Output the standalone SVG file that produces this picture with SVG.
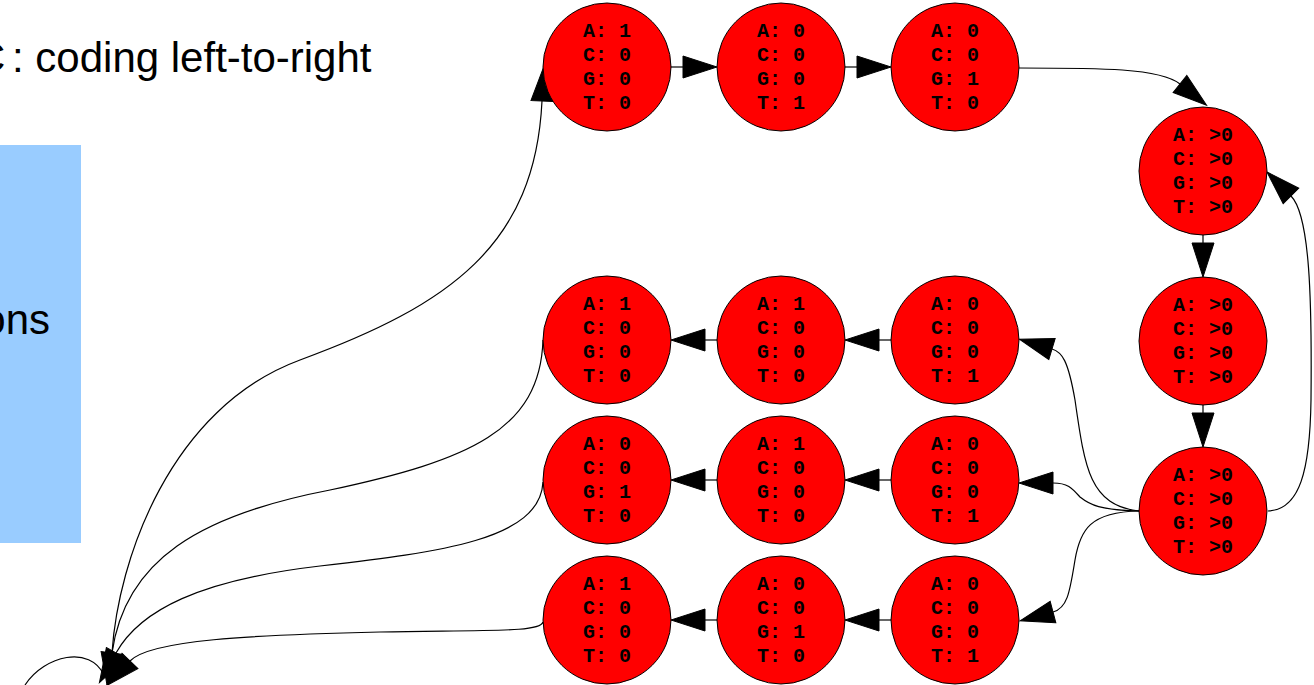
<svg xmlns="http://www.w3.org/2000/svg" width="1314" height="685" viewBox="0 0 1314 685">
<style>
.bg{fill:#ffffff}
.title{font-family:"Liberation Sans",Arial,sans-serif;font-size:42px;fill:#000}
.box{fill:#99ccff}
.node circle{fill:#ff0000;stroke:#000;stroke-width:1}
.node text{font-family:"Liberation Mono","Courier New",monospace;font-weight:bold;font-size:20px;fill:#000;text-anchor:middle}
.edge{fill:none;stroke:#000;stroke-width:1.2;marker-end:url(#arr)}
.plain{fill:none;stroke:#000;stroke-width:1.2}
</style>
<defs>
<marker id="arr" markerUnits="userSpaceOnUse" markerWidth="40" markerHeight="26" refX="1" refY="12" orient="auto" viewBox="0 0 40 24">
<path d="M1,1 L35,12 L1,23 z" fill="#000" stroke="#000" stroke-width="1"/>
</marker>
</defs>
<rect class="bg" x="0" y="0" width="1314" height="685"/>
<rect class="box" x="-10" y="145" width="91" height="398"/>
<text class="title" y="72"><tspan x="-25">C</tspan><tspan x="12">: coding left-to-right</tspan></text>
<text class="title" x="50" y="334" text-anchor="end">ons</text>

<g id="connectors">
<path class="edge" d="M112,653 C118,560 170,408 300,360 C450,305 535,245 542,101"/>
<path class="edge" d="M543,340 C540,430 470,460 330,490 C200,515 125,560 112,653"/>
<path class="edge" d="M543,482 C540,540 440,552 320,566 C200,580 140,610 116,653"/>
<path class="edge" d="M543,622 C540,632 500,630 380,632 C250,635 150,640 130,661"/>
<path class="plain" d="M25,685 C45,655 90,645 104,675"/>
<path class="edge" d="M671,67 L683,67"/>
<path class="edge" d="M845,67 L857,67"/>
<path class="edge" d="M1019,68 C1100,68 1160,68 1180,84"/>
<path class="edge" d="M1203,235 L1203,243"/>
<path class="edge" d="M1203,405 L1203,413"/>
<path class="edge" d="M1268,511 C1300,510 1310,470 1311,400 C1312,300 1310,215 1291,196"/>
<path class="edge" d="M1139,511 C1090,505 1085,470 1075,400 C1068,360 1062,352 1052,349"/>
<path class="edge" d="M1139,511 C1100,510 1090,505 1080,497 C1072,488 1068,483 1053,483"/>
<path class="edge" d="M1139,511 C1090,512 1080,530 1075,560 C1070,590 1068,608 1053,612"/>
<path class="edge" d="M891,340 L879,340"/>
<path class="edge" d="M717,340 L705,340"/>
<path class="edge" d="M891,480 L879,480"/>
<path class="edge" d="M717,480 L705,480"/>
<path class="edge" d="M891,620 L879,620"/>
<path class="edge" d="M717,620 L705,620"/>
</g>

<g id="n_t1" class="node"><circle cx="607" cy="67" r="64"/><text x="607" y="37">A: 1</text><text x="607" y="61">C: 0</text><text x="607" y="85">G: 0</text><text x="607" y="109">T: 0</text></g>
<g id="n_t2" class="node"><circle cx="781" cy="67" r="64"/><text x="781" y="37">A: 0</text><text x="781" y="61">C: 0</text><text x="781" y="85">G: 0</text><text x="781" y="109">T: 1</text></g>
<g id="n_t3" class="node"><circle cx="955" cy="67" r="64"/><text x="955" y="37">A: 0</text><text x="955" y="61">C: 0</text><text x="955" y="85">G: 1</text><text x="955" y="109">T: 0</text></g>

<g id="n_r1" class="node"><circle cx="1203" cy="171" r="64"/><text x="1203" y="141">A: &gt;0</text><text x="1203" y="165">C: &gt;0</text><text x="1203" y="189">G: &gt;0</text><text x="1203" y="213">T: &gt;0</text></g>
<g id="n_r2" class="node"><circle cx="1203" cy="341" r="64"/><text x="1203" y="311">A: &gt;0</text><text x="1203" y="335">C: &gt;0</text><text x="1203" y="359">G: &gt;0</text><text x="1203" y="383">T: &gt;0</text></g>
<g id="n_r3" class="node"><circle cx="1203" cy="511" r="64"/><text x="1203" y="481">A: &gt;0</text><text x="1203" y="505">C: &gt;0</text><text x="1203" y="529">G: &gt;0</text><text x="1203" y="553">T: &gt;0</text></g>

<g id="n_a1" class="node"><circle cx="607" cy="340" r="64"/><text x="607" y="310">A: 1</text><text x="607" y="334">C: 0</text><text x="607" y="358">G: 0</text><text x="607" y="382">T: 0</text></g>
<g id="n_a2" class="node"><circle cx="781" cy="340" r="64"/><text x="781" y="310">A: 1</text><text x="781" y="334">C: 0</text><text x="781" y="358">G: 0</text><text x="781" y="382">T: 0</text></g>
<g id="n_a3" class="node"><circle cx="955" cy="340" r="64"/><text x="955" y="310">A: 0</text><text x="955" y="334">C: 0</text><text x="955" y="358">G: 0</text><text x="955" y="382">T: 1</text></g>

<g id="n_b1" class="node"><circle cx="607" cy="480" r="64"/><text x="607" y="450">A: 0</text><text x="607" y="474">C: 0</text><text x="607" y="498">G: 1</text><text x="607" y="522">T: 0</text></g>
<g id="n_b2" class="node"><circle cx="781" cy="480" r="64"/><text x="781" y="450">A: 1</text><text x="781" y="474">C: 0</text><text x="781" y="498">G: 0</text><text x="781" y="522">T: 0</text></g>
<g id="n_b3" class="node"><circle cx="955" cy="480" r="64"/><text x="955" y="450">A: 0</text><text x="955" y="474">C: 0</text><text x="955" y="498">G: 0</text><text x="955" y="522">T: 1</text></g>

<g id="n_c1" class="node"><circle cx="607" cy="620" r="64"/><text x="607" y="590">A: 1</text><text x="607" y="614">C: 0</text><text x="607" y="638">G: 0</text><text x="607" y="662">T: 0</text></g>
<g id="n_c2" class="node"><circle cx="781" cy="620" r="64"/><text x="781" y="590">A: 0</text><text x="781" y="614">C: 0</text><text x="781" y="638">G: 1</text><text x="781" y="662">T: 0</text></g>
<g id="n_c3" class="node"><circle cx="955" cy="620" r="64"/><text x="955" y="590">A: 0</text><text x="955" y="614">C: 0</text><text x="955" y="638">G: 0</text><text x="955" y="662">T: 1</text></g>
</svg>
